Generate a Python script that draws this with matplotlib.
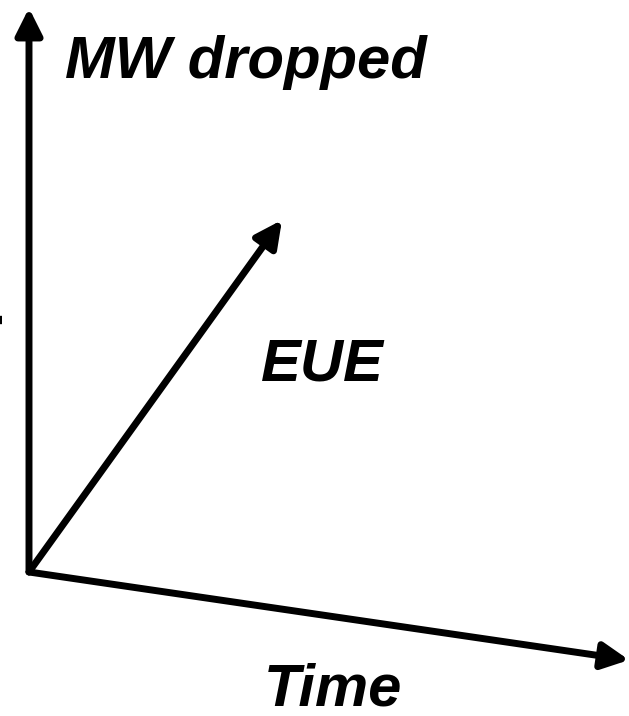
import matplotlib.pyplot as plt

# diagram in pixel-like units (x right, y down)
origin = (29, 572)
arrow_ends = [(29, 8), (282, 220), (629, 660)]
labels = ["MW dropped", "EUE", "Time"]
label_pos = [(246, 62), (322, 365), (333, 690)]

plt.rcParams['font.family'] = ['Liberation Sans', 'DejaVu Sans']

fig = plt.figure(figsize=(6.29, 7.16), dpi=100)
ax = fig.add_axes([0, 0, 1, 1])
ax.set_xlim(0, 629)
ax.set_ylim(716, 0)
ax.axis('off')

for end in arrow_ends:
    ax.annotate("", xy=end, xytext=origin,
                arrowprops=dict(arrowstyle="-|>,head_length=1.6,head_width=0.8",
                                lw=5, color="black", shrinkA=0, shrinkB=0))

# small stray tick at left edge
ax.plot([0, 2], [320, 320], color="black", lw=6, solid_capstyle="butt")

for txt, (x, y) in zip(labels, label_pos):
    ax.text(x, y, txt, fontsize=43, fontweight="bold", fontstyle="italic",
            ha="center", va="center")

fig.savefig("out.png", dpi=100)
